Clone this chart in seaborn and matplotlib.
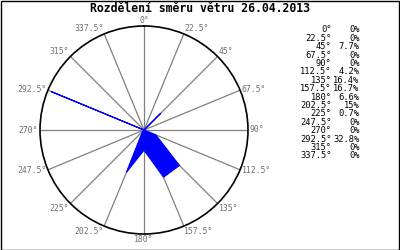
import numpy as np
import matplotlib
matplotlib.use("Agg")
import matplotlib.pyplot as plt
import seaborn as sns
from matplotlib.patches import Rectangle

directions = [0, 22.5, 45, 67.5, 90, 112.5, 135, 157.5, 180, 202.5, 225, 247.5, 270, 292.5, 315, 337.5]
percent = [0, 0, 7.7, 0, 0, 4.2, 16.4, 16.7, 6.6, 15, 0.7, 0, 0, 32.8, 0, 0]
title = "Rozdělení směru větru 26.04.2013"

sns.set_theme(style="white")
plt.rcParams['font.family'] = ['DejaVu Sans Mono', 'DejaVu Sans']

W, H = 400, 250
fig = plt.figure(figsize=(4, 2.5), dpi=100)
fig.patch.set_facecolor("white")

cx, cy, R = 144, 130, 104
ax = fig.add_axes([(cx - R) / W, (H - cy - R) / H, 2 * R / W, 2 * R / H], projection="polar")
ax.set_theta_zero_location("N")
ax.set_theta_direction(-1)
rmax = 34
ax.set_ylim(0, rmax)
ax.grid(False)
ax.set_xticks([])
ax.set_yticks([])
ax.set_facecolor("white")
ax.spines["polar"].set_color("black")
ax.spines["polar"].set_linewidth(1.2)

theta = np.deg2rad(directions)
# spokes
for t in theta:
    ax.plot([t, t], [0, rmax], color="#808080", lw=0.9, zorder=1)

# polygon
th_c = np.append(theta, theta[0])
r_c = np.append(percent, percent[0])
ax.fill(th_c, r_c, color="#0000ff", lw=0, zorder=2)
sns.lineplot(x=th_c, y=r_c, sort=False, estimator=None, color="#0000ff", lw=0.8, ax=ax, zorder=3)
ax.set_xlabel("")
ax.set_ylabel("")
ax.set_ylim(0, rmax)

# direction labels
for d, t in zip(directions, theta):
    s, c = np.sin(t), np.cos(t)
    ha = "left" if s > 0.1 else ("right" if s < -0.1 else "center")
    va = "bottom" if c > 0.5 else ("top" if c < -0.5 else "center")
    ax.annotate(f"{d:g}°", xy=(t, rmax), xytext=(1.2 * s, 0.6 * c),
                textcoords="offset points", ha=ha, va=va, fontsize=5.9,
                color="#707070", annotation_clip=False)

# title
fig.text(0.5, 1 - 9 / H, title, ha="center", va="center", fontsize=8.3,
         fontweight="bold", color="black")

# legend table
y0, dy = 30, 8.4
for i, (d, p) in enumerate(zip(directions, percent)):
    y = 1 - (y0 + i * dy) / H
    fig.text(331.5 / W, y, f"{d:g}°", ha="right", va="center", fontsize=6.3, color="black")
    fig.text(359.5 / W, y, f"{p:g}%", ha="right", va="center", fontsize=6.3, color="black")

# frame
fig.add_artist(Rectangle((0.5 / W, 0.5 / H), 1 - 1.5 / W, 1 - 1.5 / H, transform=fig.transFigure,
                         fill=False, edgecolor="black", lw=1))

fig.savefig("out.png", dpi=100)
